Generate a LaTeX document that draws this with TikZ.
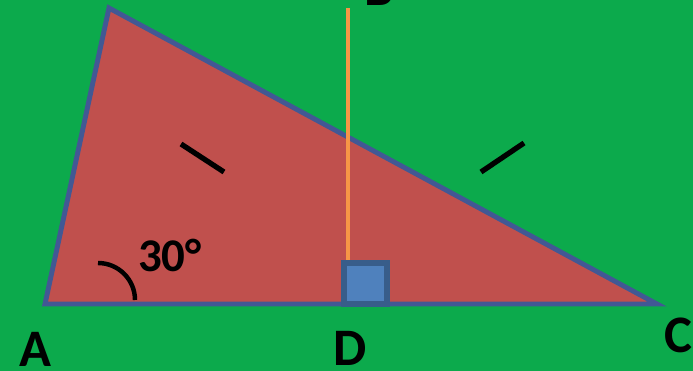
\documentclass[tikz,border=0pt]{standalone}
\usepackage{fontspec}
\setmainfont{Carlito}
\usetikzlibrary{positioning}
\definecolor{bggreen}{RGB}{12,170,76}
\definecolor{trired}{RGB}{192,80,77}
\definecolor{triedge}{RGB}{66,88,148}
\definecolor{altorange}{RGB}{247,150,70}
\definecolor{sqblue}{RGB}{79,129,189}
\definecolor{sqedge}{RGB}{56,93,138}

\begin{document}
\begin{tikzpicture}[x=0.03cm,y=-0.03cm,
  tri/.style={draw=triedge,fill=trired,line width=4.2pt,line join=miter},
  altline/.style={draw=altorange,line width=3.6pt},
  sqbox/.style={draw=sqedge,fill=sqblue,line width=4.3pt},
  tickmark/.style={draw=black,line width=4.5pt},
  anglemark/.style={draw=black,line width=3.8pt},
  lbl/.style={font=\fontsize{45}{50}\selectfont\bfseries,anchor=base,inner sep=0pt},
  anglelbl/.style={lbl,font=\fontsize{40}{44}\selectfont\bfseries},
]
\useasboundingbox (0,0) rectangle (693,371);
\clip (0,0) rectangle (693,371);
\fill[bggreen] (0,0) rectangle (693,371);

% triangle
\coordinate (A) at (45,304);
\coordinate (T) at (109,8);
\coordinate (C) at (657,304);
\coordinate (D) at (348,304);
\coordinate (B) at (348,8);
\coordinate (Dtop) at (348,263);
\draw[tri] (A) -- (T) -- (C) -- cycle;

% altitude and right angle mark
\draw[altline] (B) -- (Dtop);
\draw[sqbox] (344,263) rectangle (387,304);

% equal marks
\draw[tickmark] (181,144) -- (224,172);
\draw[tickmark] (481,172) -- (524,143);

% angle at A
\draw[anglemark] (98,263) arc[start angle=270,end angle=360,radius=37];

% labels
\node[anglelbl] (l30) at (170,272) {30°};
\node[lbl] (lA) at (35,367) {A};
\node[lbl] (lD) at (350,366) {D};
\node[lbl] (lC) at (678,352) {C};
\node[lbl] (lB) at (379,6) {B};
\end{tikzpicture}
\end{document}
